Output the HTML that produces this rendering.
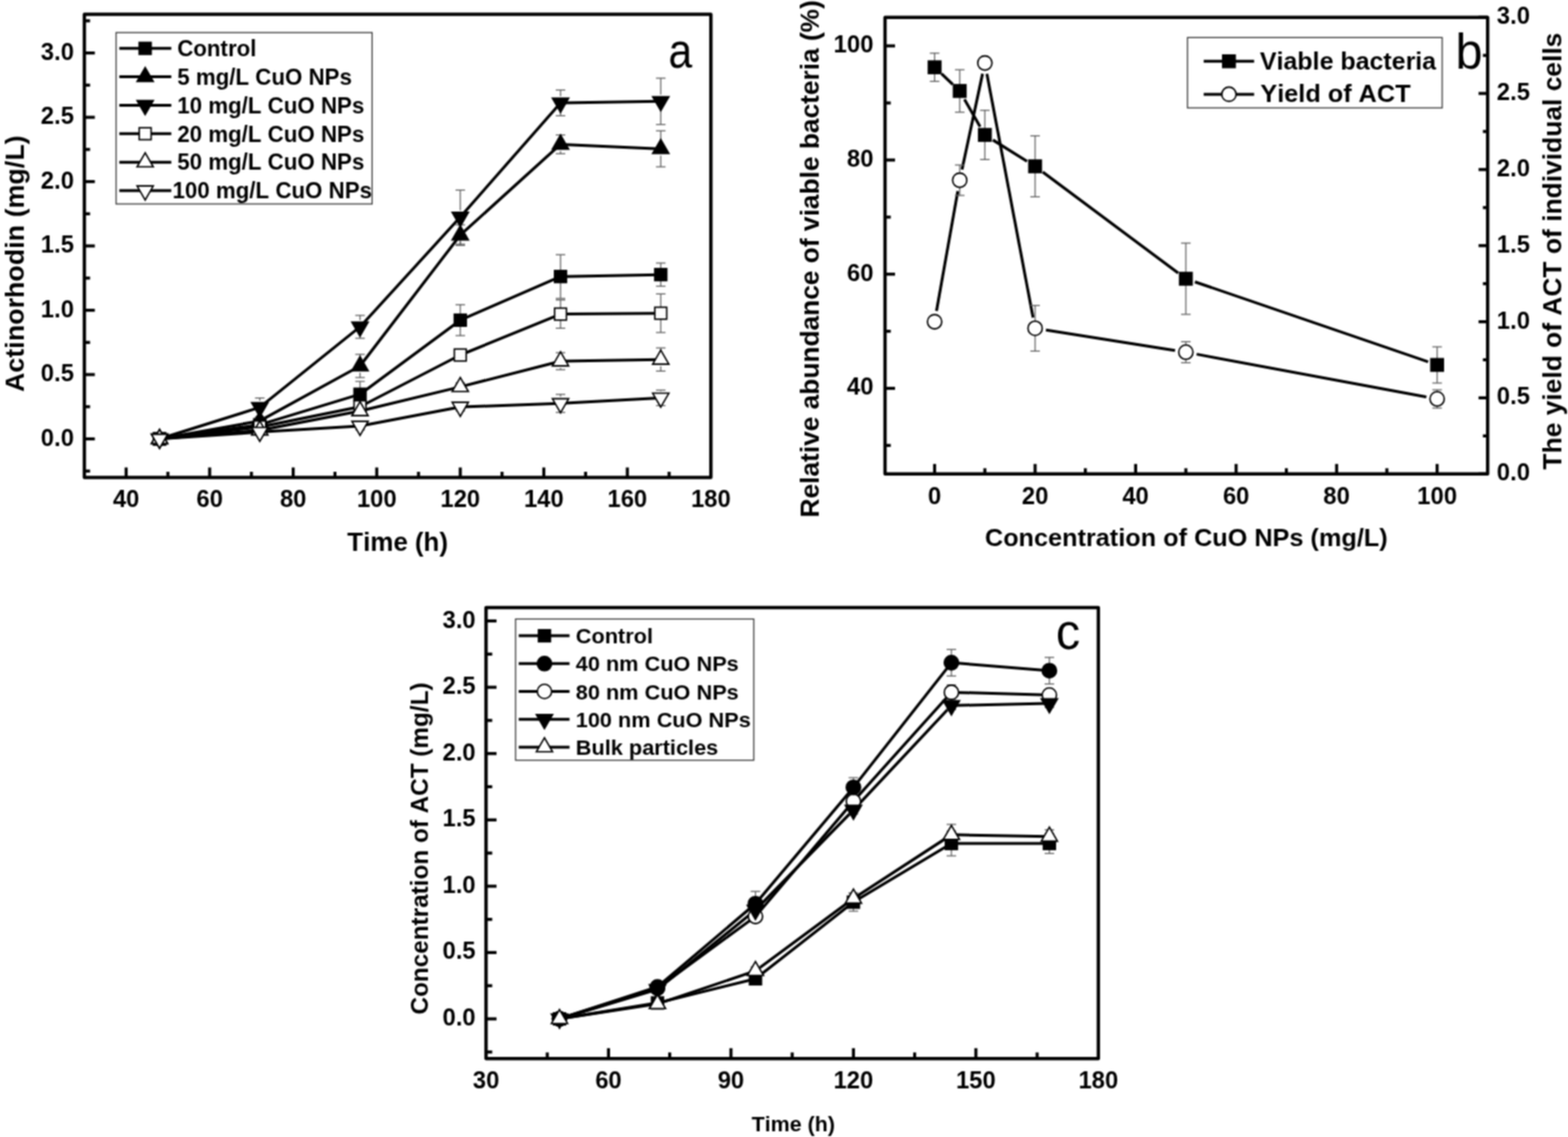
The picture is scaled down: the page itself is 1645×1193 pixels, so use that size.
<!DOCTYPE html><html><head><meta charset="utf-8"><title>Figure</title>
<style>html,body{margin:0;padding:0;background:#fff;overflow:hidden;}svg{display:block;}text{font-kerning:none;}</style></head><body>
<svg width="1645" height="1193" viewBox="0 0 1645 1193">
<defs><filter id="soft" filterUnits="userSpaceOnUse" x="0" y="0" width="1645" height="1193" color-interpolation-filters="sRGB"><feConvolveMatrix order="3" kernelMatrix="1 2 1 2 4 2 1 2 1" divisor="16" edgeMode="duplicate"/></filter></defs>
<g filter="url(#soft)">
<rect x="0" y="0" width="1645" height="1193" fill="#fff"/>
<rect x="88.5" y="15.1" width="657.3" height="485.9" fill="none" stroke="#000" stroke-width="3.5" stroke-linejoin="round"/>
<line x1="132.32" y1="501" x2="132.32" y2="490.5" stroke="#000" stroke-width="3.2" />
<text x="132.32" y="532.2" font-size="25" text-anchor="middle" font-weight="bold" font-family="'Liberation Sans', Arial, sans-serif" >40</text>
<line x1="219.96" y1="501" x2="219.96" y2="490.5" stroke="#000" stroke-width="3.2" />
<text x="219.96" y="532.2" font-size="25" text-anchor="middle" font-weight="bold" font-family="'Liberation Sans', Arial, sans-serif" >60</text>
<line x1="307.6" y1="501" x2="307.6" y2="490.5" stroke="#000" stroke-width="3.2" />
<text x="307.6" y="532.2" font-size="25" text-anchor="middle" font-weight="bold" font-family="'Liberation Sans', Arial, sans-serif" >80</text>
<line x1="395.24" y1="501" x2="395.24" y2="490.5" stroke="#000" stroke-width="3.2" />
<text x="395.24" y="532.2" font-size="25" text-anchor="middle" font-weight="bold" font-family="'Liberation Sans', Arial, sans-serif" >100</text>
<line x1="482.88" y1="501" x2="482.88" y2="490.5" stroke="#000" stroke-width="3.2" />
<text x="482.88" y="532.2" font-size="25" text-anchor="middle" font-weight="bold" font-family="'Liberation Sans', Arial, sans-serif" >120</text>
<line x1="570.52" y1="501" x2="570.52" y2="490.5" stroke="#000" stroke-width="3.2" />
<text x="570.52" y="532.2" font-size="25" text-anchor="middle" font-weight="bold" font-family="'Liberation Sans', Arial, sans-serif" >140</text>
<line x1="658.16" y1="501" x2="658.16" y2="490.5" stroke="#000" stroke-width="3.2" />
<text x="658.16" y="532.2" font-size="25" text-anchor="middle" font-weight="bold" font-family="'Liberation Sans', Arial, sans-serif" >160</text>
<text x="745.8" y="532.2" font-size="25" text-anchor="middle" font-weight="bold" font-family="'Liberation Sans', Arial, sans-serif" >180</text>
<line x1="176.14" y1="501" x2="176.14" y2="495" stroke="#000" stroke-width="3.2" />
<line x1="263.78" y1="501" x2="263.78" y2="495" stroke="#000" stroke-width="3.2" />
<line x1="351.42" y1="501" x2="351.42" y2="495" stroke="#000" stroke-width="3.2" />
<line x1="439.06" y1="501" x2="439.06" y2="495" stroke="#000" stroke-width="3.2" />
<line x1="526.7" y1="501" x2="526.7" y2="495" stroke="#000" stroke-width="3.2" />
<line x1="614.34" y1="501" x2="614.34" y2="495" stroke="#000" stroke-width="3.2" />
<line x1="701.98" y1="501" x2="701.98" y2="495" stroke="#000" stroke-width="3.2" />
<line x1="88.5" y1="460.51" x2="99.5" y2="460.51" stroke="#000" stroke-width="3.2" />
<text x="77.6" y="467.51" font-size="25" text-anchor="end" font-weight="bold" font-family="'Liberation Sans', Arial, sans-serif" >0.0</text>
<line x1="88.5" y1="393.02" x2="99.5" y2="393.02" stroke="#000" stroke-width="3.2" />
<text x="77.6" y="400.02" font-size="25" text-anchor="end" font-weight="bold" font-family="'Liberation Sans', Arial, sans-serif" >0.5</text>
<line x1="88.5" y1="325.54" x2="99.5" y2="325.54" stroke="#000" stroke-width="3.2" />
<text x="77.6" y="332.54" font-size="25" text-anchor="end" font-weight="bold" font-family="'Liberation Sans', Arial, sans-serif" >1.0</text>
<line x1="88.5" y1="258.05" x2="99.5" y2="258.05" stroke="#000" stroke-width="3.2" />
<text x="77.6" y="265.05" font-size="25" text-anchor="end" font-weight="bold" font-family="'Liberation Sans', Arial, sans-serif" >1.5</text>
<line x1="88.5" y1="190.56" x2="99.5" y2="190.56" stroke="#000" stroke-width="3.2" />
<text x="77.6" y="197.56" font-size="25" text-anchor="end" font-weight="bold" font-family="'Liberation Sans', Arial, sans-serif" >2.0</text>
<line x1="88.5" y1="123.08" x2="99.5" y2="123.08" stroke="#000" stroke-width="3.2" />
<text x="77.6" y="130.08" font-size="25" text-anchor="end" font-weight="bold" font-family="'Liberation Sans', Arial, sans-serif" >2.5</text>
<line x1="88.5" y1="55.59" x2="99.5" y2="55.59" stroke="#000" stroke-width="3.2" />
<text x="77.6" y="62.59" font-size="25" text-anchor="end" font-weight="bold" font-family="'Liberation Sans', Arial, sans-serif" >3.0</text>
<line x1="88.5" y1="494.25" x2="94.5" y2="494.25" stroke="#000" stroke-width="3.2" />
<line x1="88.5" y1="426.77" x2="94.5" y2="426.77" stroke="#000" stroke-width="3.2" />
<line x1="88.5" y1="359.28" x2="94.5" y2="359.28" stroke="#000" stroke-width="3.2" />
<line x1="88.5" y1="291.79" x2="94.5" y2="291.79" stroke="#000" stroke-width="3.2" />
<line x1="88.5" y1="224.31" x2="94.5" y2="224.31" stroke="#000" stroke-width="3.2" />
<line x1="88.5" y1="156.82" x2="94.5" y2="156.82" stroke="#000" stroke-width="3.2" />
<line x1="88.5" y1="89.33" x2="94.5" y2="89.33" stroke="#000" stroke-width="3.2" />
<line x1="88.5" y1="21.85" x2="94.5" y2="21.85" stroke="#000" stroke-width="3.2" />
<text x="364.3" y="578.3" font-size="27.2" text-anchor="start" font-weight="bold" font-family="'Liberation Sans', Arial, sans-serif" >Time (h)</text>
<text transform="translate(25,411.3) rotate(-90)" font-size="28.2" font-weight="bold" font-family="'Liberation Sans', Arial, sans-serif">Actinorhodin (mg/L)</text>
<text transform="translate(701.2,71.2) scale(0.88,1)" font-size="51" font-family="'Liberation Sans', Arial, sans-serif">a</text>
<polyline points="167.38,460.51 272.54,445.66 377.71,413.67 482.88,335.93 588.05,290.17 693.22,288.15" fill="none" stroke="#000" stroke-width="3.0" stroke-linejoin="round"/>
<polyline points="167.38,460.51 272.54,441.61 377.71,383.98 482.88,246.71 588.05,151.42 693.22,156.15" fill="none" stroke="#000" stroke-width="3.0" stroke-linejoin="round"/>
<polyline points="167.38,460.51 272.54,427.44 377.71,342.95 482.88,227.82 588.05,107.96 693.22,106.34" fill="none" stroke="#000" stroke-width="3.0" stroke-linejoin="round"/>
<polyline points="167.38,460.51 272.54,447.96 377.71,426.77 482.88,372.51 588.05,329.59 693.22,328.64" fill="none" stroke="#000" stroke-width="3.0" stroke-linejoin="round"/>
<polyline points="167.38,460.51 272.54,451.47 377.71,431.22 482.88,405.84 588.05,378.99 693.22,377.23" fill="none" stroke="#000" stroke-width="3.0" stroke-linejoin="round"/>
<polyline points="167.38,460.51 272.54,453.35 377.71,447.01 482.88,427.04 588.05,423.26 693.22,417.45" fill="none" stroke="#000" stroke-width="3.0" stroke-linejoin="round"/>
<line x1="267.54" y1="442.96" x2="277.54" y2="442.96" stroke="#606060" stroke-width="1.2" />
<line x1="267.54" y1="448.36" x2="277.54" y2="448.36" stroke="#606060" stroke-width="1.2" />
<line x1="377.71" y1="407.67" x2="377.71" y2="400.18" stroke="#606060" stroke-width="1.2" />
<line x1="372.71" y1="400.18" x2="382.71" y2="400.18" stroke="#606060" stroke-width="1.2" />
<line x1="377.71" y1="419.67" x2="377.71" y2="427.17" stroke="#606060" stroke-width="1.2" />
<line x1="372.71" y1="427.17" x2="382.71" y2="427.17" stroke="#606060" stroke-width="1.2" />
<line x1="482.88" y1="329.93" x2="482.88" y2="319.73" stroke="#606060" stroke-width="1.2" />
<line x1="477.88" y1="319.73" x2="487.88" y2="319.73" stroke="#606060" stroke-width="1.2" />
<line x1="482.88" y1="341.93" x2="482.88" y2="352.13" stroke="#606060" stroke-width="1.2" />
<line x1="477.88" y1="352.13" x2="487.88" y2="352.13" stroke="#606060" stroke-width="1.2" />
<line x1="588.05" y1="284.17" x2="588.05" y2="267.23" stroke="#606060" stroke-width="1.2" />
<line x1="583.05" y1="267.23" x2="593.05" y2="267.23" stroke="#606060" stroke-width="1.2" />
<line x1="588.05" y1="296.17" x2="588.05" y2="313.12" stroke="#606060" stroke-width="1.2" />
<line x1="583.05" y1="313.12" x2="593.05" y2="313.12" stroke="#606060" stroke-width="1.2" />
<line x1="693.22" y1="282.15" x2="693.22" y2="276" stroke="#606060" stroke-width="1.2" />
<line x1="688.22" y1="276" x2="698.22" y2="276" stroke="#606060" stroke-width="1.2" />
<line x1="693.22" y1="294.15" x2="693.22" y2="300.3" stroke="#606060" stroke-width="1.2" />
<line x1="688.22" y1="300.3" x2="698.22" y2="300.3" stroke="#606060" stroke-width="1.2" />
<line x1="267.54" y1="438.91" x2="277.54" y2="438.91" stroke="#606060" stroke-width="1.2" />
<line x1="267.54" y1="444.31" x2="277.54" y2="444.31" stroke="#606060" stroke-width="1.2" />
<line x1="377.71" y1="376.98" x2="377.71" y2="371.83" stroke="#606060" stroke-width="1.2" />
<line x1="372.71" y1="371.83" x2="382.71" y2="371.83" stroke="#606060" stroke-width="1.2" />
<line x1="377.71" y1="390.98" x2="377.71" y2="396.13" stroke="#606060" stroke-width="1.2" />
<line x1="372.71" y1="396.13" x2="382.71" y2="396.13" stroke="#606060" stroke-width="1.2" />
<line x1="482.88" y1="239.71" x2="482.88" y2="235.91" stroke="#606060" stroke-width="1.2" />
<line x1="477.88" y1="235.91" x2="487.88" y2="235.91" stroke="#606060" stroke-width="1.2" />
<line x1="482.88" y1="253.71" x2="482.88" y2="257.51" stroke="#606060" stroke-width="1.2" />
<line x1="477.88" y1="257.51" x2="487.88" y2="257.51" stroke="#606060" stroke-width="1.2" />
<line x1="588.05" y1="144.42" x2="588.05" y2="141.57" stroke="#606060" stroke-width="1.2" />
<line x1="583.05" y1="141.57" x2="593.05" y2="141.57" stroke="#606060" stroke-width="1.2" />
<line x1="588.05" y1="158.42" x2="588.05" y2="161.27" stroke="#606060" stroke-width="1.2" />
<line x1="583.05" y1="161.27" x2="593.05" y2="161.27" stroke="#606060" stroke-width="1.2" />
<line x1="693.22" y1="149.15" x2="693.22" y2="137.25" stroke="#606060" stroke-width="1.2" />
<line x1="688.22" y1="137.25" x2="698.22" y2="137.25" stroke="#606060" stroke-width="1.2" />
<line x1="693.22" y1="163.15" x2="693.22" y2="175.04" stroke="#606060" stroke-width="1.2" />
<line x1="688.22" y1="175.04" x2="698.22" y2="175.04" stroke="#606060" stroke-width="1.2" />
<line x1="272.54" y1="420.44" x2="272.54" y2="417.59" stroke="#606060" stroke-width="1.2" />
<line x1="267.54" y1="417.59" x2="277.54" y2="417.59" stroke="#606060" stroke-width="1.2" />
<line x1="272.54" y1="434.44" x2="272.54" y2="437.29" stroke="#606060" stroke-width="1.2" />
<line x1="267.54" y1="437.29" x2="277.54" y2="437.29" stroke="#606060" stroke-width="1.2" />
<line x1="377.71" y1="335.95" x2="377.71" y2="330.94" stroke="#606060" stroke-width="1.2" />
<line x1="372.71" y1="330.94" x2="382.71" y2="330.94" stroke="#606060" stroke-width="1.2" />
<line x1="377.71" y1="349.95" x2="377.71" y2="354.96" stroke="#606060" stroke-width="1.2" />
<line x1="372.71" y1="354.96" x2="382.71" y2="354.96" stroke="#606060" stroke-width="1.2" />
<line x1="482.88" y1="220.82" x2="482.88" y2="199.47" stroke="#606060" stroke-width="1.2" />
<line x1="477.88" y1="199.47" x2="487.88" y2="199.47" stroke="#606060" stroke-width="1.2" />
<line x1="482.88" y1="234.82" x2="482.88" y2="256.16" stroke="#606060" stroke-width="1.2" />
<line x1="477.88" y1="256.16" x2="487.88" y2="256.16" stroke="#606060" stroke-width="1.2" />
<line x1="588.05" y1="100.96" x2="588.05" y2="94.46" stroke="#606060" stroke-width="1.2" />
<line x1="583.05" y1="94.46" x2="593.05" y2="94.46" stroke="#606060" stroke-width="1.2" />
<line x1="588.05" y1="114.96" x2="588.05" y2="121.46" stroke="#606060" stroke-width="1.2" />
<line x1="583.05" y1="121.46" x2="593.05" y2="121.46" stroke="#606060" stroke-width="1.2" />
<line x1="693.22" y1="99.34" x2="693.22" y2="82.05" stroke="#606060" stroke-width="1.2" />
<line x1="688.22" y1="82.05" x2="698.22" y2="82.05" stroke="#606060" stroke-width="1.2" />
<line x1="693.22" y1="113.34" x2="693.22" y2="130.64" stroke="#606060" stroke-width="1.2" />
<line x1="688.22" y1="130.64" x2="698.22" y2="130.64" stroke="#606060" stroke-width="1.2" />
<line x1="267.54" y1="445.26" x2="277.54" y2="445.26" stroke="#606060" stroke-width="1.2" />
<line x1="267.54" y1="450.66" x2="277.54" y2="450.66" stroke="#606060" stroke-width="1.2" />
<line x1="372.71" y1="422.72" x2="382.71" y2="422.72" stroke="#606060" stroke-width="1.2" />
<line x1="372.71" y1="430.81" x2="382.71" y2="430.81" stroke="#606060" stroke-width="1.2" />
<line x1="477.88" y1="369.81" x2="487.88" y2="369.81" stroke="#606060" stroke-width="1.2" />
<line x1="477.88" y1="375.21" x2="487.88" y2="375.21" stroke="#606060" stroke-width="1.2" />
<line x1="588.05" y1="323.59" x2="588.05" y2="314.74" stroke="#606060" stroke-width="1.2" />
<line x1="583.05" y1="314.74" x2="593.05" y2="314.74" stroke="#606060" stroke-width="1.2" />
<line x1="588.05" y1="335.59" x2="588.05" y2="344.43" stroke="#606060" stroke-width="1.2" />
<line x1="583.05" y1="344.43" x2="593.05" y2="344.43" stroke="#606060" stroke-width="1.2" />
<line x1="693.22" y1="322.64" x2="693.22" y2="308.39" stroke="#606060" stroke-width="1.2" />
<line x1="688.22" y1="308.39" x2="698.22" y2="308.39" stroke="#606060" stroke-width="1.2" />
<line x1="693.22" y1="334.64" x2="693.22" y2="348.89" stroke="#606060" stroke-width="1.2" />
<line x1="688.22" y1="348.89" x2="698.22" y2="348.89" stroke="#606060" stroke-width="1.2" />
<line x1="267.54" y1="448.77" x2="277.54" y2="448.77" stroke="#606060" stroke-width="1.2" />
<line x1="267.54" y1="454.16" x2="277.54" y2="454.16" stroke="#606060" stroke-width="1.2" />
<line x1="372.71" y1="427.17" x2="382.71" y2="427.17" stroke="#606060" stroke-width="1.2" />
<line x1="372.71" y1="435.27" x2="382.71" y2="435.27" stroke="#606060" stroke-width="1.2" />
<line x1="477.88" y1="401.8" x2="487.88" y2="401.8" stroke="#606060" stroke-width="1.2" />
<line x1="477.88" y1="409.89" x2="487.88" y2="409.89" stroke="#606060" stroke-width="1.2" />
<line x1="588.05" y1="371.99" x2="588.05" y2="370.08" stroke="#606060" stroke-width="1.2" />
<line x1="583.05" y1="370.08" x2="593.05" y2="370.08" stroke="#606060" stroke-width="1.2" />
<line x1="588.05" y1="385.99" x2="588.05" y2="387.89" stroke="#606060" stroke-width="1.2" />
<line x1="583.05" y1="387.89" x2="593.05" y2="387.89" stroke="#606060" stroke-width="1.2" />
<line x1="693.22" y1="370.23" x2="693.22" y2="365.08" stroke="#606060" stroke-width="1.2" />
<line x1="688.22" y1="365.08" x2="698.22" y2="365.08" stroke="#606060" stroke-width="1.2" />
<line x1="693.22" y1="384.23" x2="693.22" y2="389.38" stroke="#606060" stroke-width="1.2" />
<line x1="688.22" y1="389.38" x2="698.22" y2="389.38" stroke="#606060" stroke-width="1.2" />
<line x1="267.54" y1="450.66" x2="277.54" y2="450.66" stroke="#606060" stroke-width="1.2" />
<line x1="267.54" y1="456.05" x2="277.54" y2="456.05" stroke="#606060" stroke-width="1.2" />
<line x1="372.71" y1="442.96" x2="382.71" y2="442.96" stroke="#606060" stroke-width="1.2" />
<line x1="372.71" y1="451.06" x2="382.71" y2="451.06" stroke="#606060" stroke-width="1.2" />
<line x1="477.88" y1="422.99" x2="487.88" y2="422.99" stroke="#606060" stroke-width="1.2" />
<line x1="477.88" y1="431.08" x2="487.88" y2="431.08" stroke="#606060" stroke-width="1.2" />
<line x1="588.05" y1="416.26" x2="588.05" y2="413.81" stroke="#606060" stroke-width="1.2" />
<line x1="583.05" y1="413.81" x2="593.05" y2="413.81" stroke="#606060" stroke-width="1.2" />
<line x1="588.05" y1="430.26" x2="588.05" y2="432.7" stroke="#606060" stroke-width="1.2" />
<line x1="583.05" y1="432.7" x2="593.05" y2="432.7" stroke="#606060" stroke-width="1.2" />
<line x1="693.22" y1="410.45" x2="693.22" y2="409.35" stroke="#606060" stroke-width="1.2" />
<line x1="688.22" y1="409.35" x2="698.22" y2="409.35" stroke="#606060" stroke-width="1.2" />
<line x1="693.22" y1="424.45" x2="693.22" y2="425.55" stroke="#606060" stroke-width="1.2" />
<line x1="688.22" y1="425.55" x2="698.22" y2="425.55" stroke="#606060" stroke-width="1.2" />
<rect x="161.13" y="454.26" width="12.5" height="12.5" fill="#000" stroke="#000" stroke-width="1.6"/>
<rect x="266.29" y="439.41" width="12.5" height="12.5" fill="#000" stroke="#000" stroke-width="1.6"/>
<rect x="371.46" y="407.42" width="12.5" height="12.5" fill="#000" stroke="#000" stroke-width="1.6"/>
<rect x="476.63" y="329.68" width="12.5" height="12.5" fill="#000" stroke="#000" stroke-width="1.6"/>
<rect x="581.8" y="283.92" width="12.5" height="12.5" fill="#000" stroke="#000" stroke-width="1.6"/>
<rect x="686.97" y="281.9" width="12.5" height="12.5" fill="#000" stroke="#000" stroke-width="1.6"/>
<polygon points="167.38,450.69 158.88,465.42 175.88,465.42" fill="#000" stroke="#000" stroke-width="1.6" stroke-linejoin="miter"/>
<polygon points="272.54,431.8 264.04,446.52 281.04,446.52" fill="#000" stroke="#000" stroke-width="1.6" stroke-linejoin="miter"/>
<polygon points="377.71,374.16 369.21,388.89 386.21,388.89" fill="#000" stroke="#000" stroke-width="1.6" stroke-linejoin="miter"/>
<polygon points="482.88,236.9 474.38,251.62 491.38,251.62" fill="#000" stroke="#000" stroke-width="1.6" stroke-linejoin="miter"/>
<polygon points="588.05,141.61 579.55,156.33 596.55,156.33" fill="#000" stroke="#000" stroke-width="1.6" stroke-linejoin="miter"/>
<polygon points="693.22,146.33 684.72,161.05 701.72,161.05" fill="#000" stroke="#000" stroke-width="1.6" stroke-linejoin="miter"/>
<polygon points="167.38,470.32 158.88,455.6 175.88,455.6" fill="#000" stroke="#000" stroke-width="1.6" stroke-linejoin="miter"/>
<polygon points="272.54,437.25 264.04,422.53 281.04,422.53" fill="#000" stroke="#000" stroke-width="1.6" stroke-linejoin="miter"/>
<polygon points="377.71,352.76 369.21,338.04 386.21,338.04" fill="#000" stroke="#000" stroke-width="1.6" stroke-linejoin="miter"/>
<polygon points="482.88,237.63 474.38,222.91 491.38,222.91" fill="#000" stroke="#000" stroke-width="1.6" stroke-linejoin="miter"/>
<polygon points="588.05,117.78 579.55,103.05 596.55,103.05" fill="#000" stroke="#000" stroke-width="1.6" stroke-linejoin="miter"/>
<polygon points="693.22,116.16 684.72,101.43 701.72,101.43" fill="#000" stroke="#000" stroke-width="1.6" stroke-linejoin="miter"/>
<rect x="161.13" y="454.26" width="12.5" height="12.5" fill="#fff" stroke="#000" stroke-width="1.6"/>
<rect x="266.29" y="441.71" width="12.5" height="12.5" fill="#fff" stroke="#000" stroke-width="1.6"/>
<rect x="371.46" y="420.52" width="12.5" height="12.5" fill="#fff" stroke="#000" stroke-width="1.6"/>
<rect x="476.63" y="366.26" width="12.5" height="12.5" fill="#fff" stroke="#000" stroke-width="1.6"/>
<rect x="581.8" y="323.34" width="12.5" height="12.5" fill="#fff" stroke="#000" stroke-width="1.6"/>
<rect x="686.97" y="322.39" width="12.5" height="12.5" fill="#fff" stroke="#000" stroke-width="1.6"/>
<polygon points="167.38,450.69 158.88,465.42 175.88,465.42" fill="#fff" stroke="#000" stroke-width="1.6" stroke-linejoin="miter"/>
<polygon points="272.54,441.65 264.04,456.37 281.04,456.37" fill="#fff" stroke="#000" stroke-width="1.6" stroke-linejoin="miter"/>
<polygon points="377.71,421.4 369.21,436.13 386.21,436.13" fill="#fff" stroke="#000" stroke-width="1.6" stroke-linejoin="miter"/>
<polygon points="482.88,396.03 474.38,410.75 491.38,410.75" fill="#fff" stroke="#000" stroke-width="1.6" stroke-linejoin="miter"/>
<polygon points="588.05,369.17 579.55,383.89 596.55,383.89" fill="#fff" stroke="#000" stroke-width="1.6" stroke-linejoin="miter"/>
<polygon points="693.22,367.42 684.72,382.14 701.72,382.14" fill="#fff" stroke="#000" stroke-width="1.6" stroke-linejoin="miter"/>
<polygon points="167.38,470.32 158.88,455.6 175.88,455.6" fill="#fff" stroke="#000" stroke-width="1.6" stroke-linejoin="miter"/>
<polygon points="272.54,463.17 264.04,448.45 281.04,448.45" fill="#fff" stroke="#000" stroke-width="1.6" stroke-linejoin="miter"/>
<polygon points="377.71,456.83 369.21,442.1 386.21,442.1" fill="#fff" stroke="#000" stroke-width="1.6" stroke-linejoin="miter"/>
<polygon points="482.88,436.85 474.38,422.13 491.38,422.13" fill="#fff" stroke="#000" stroke-width="1.6" stroke-linejoin="miter"/>
<polygon points="588.05,433.07 579.55,418.35 596.55,418.35" fill="#fff" stroke="#000" stroke-width="1.6" stroke-linejoin="miter"/>
<polygon points="693.22,427.27 684.72,412.54 701.72,412.54" fill="#fff" stroke="#000" stroke-width="1.6" stroke-linejoin="miter"/>
<rect x="121.8" y="34.2" width="268.6" height="179.8" fill="#fff" stroke="#333" stroke-width="1.2"/>
<line x1="125.2" y1="50.75" x2="179.7" y2="50.75" stroke="#000" stroke-width="3.0" />
<rect x="146.05" y="44.5" width="12.5" height="12.5" fill="#000" stroke="#000" stroke-width="1.6"/>
<text x="185.9" y="59.05" font-size="23.4" text-anchor="start" font-weight="bold" font-family="'Liberation Sans', Arial, sans-serif" >Control</text>
<line x1="125.2" y1="80.6" x2="179.7" y2="80.6" stroke="#000" stroke-width="3.0" />
<polygon points="152.3,70.79 143.8,85.51 160.8,85.51" fill="#000" stroke="#000" stroke-width="1.6" stroke-linejoin="miter"/>
<text x="185.9" y="88.9" font-size="23.4" text-anchor="start" font-weight="bold" font-family="'Liberation Sans', Arial, sans-serif" >5 mg/L CuO NPs</text>
<line x1="125.2" y1="110.45" x2="179.7" y2="110.45" stroke="#000" stroke-width="3.0" />
<polygon points="152.3,120.26 143.8,105.54 160.8,105.54" fill="#000" stroke="#000" stroke-width="1.6" stroke-linejoin="miter"/>
<text x="185.9" y="118.75" font-size="23.4" text-anchor="start" font-weight="bold" font-family="'Liberation Sans', Arial, sans-serif" >10 mg/L CuO NPs</text>
<line x1="125.2" y1="140.3" x2="179.7" y2="140.3" stroke="#000" stroke-width="3.0" />
<rect x="146.05" y="134.05" width="12.5" height="12.5" fill="#fff" stroke="#000" stroke-width="1.6"/>
<text x="185.9" y="148.6" font-size="23.4" text-anchor="start" font-weight="bold" font-family="'Liberation Sans', Arial, sans-serif" >20 mg/L CuO NPs</text>
<line x1="125.2" y1="170.15" x2="179.7" y2="170.15" stroke="#000" stroke-width="3.0" />
<polygon points="152.3,160.34 143.8,175.06 160.8,175.06" fill="#fff" stroke="#000" stroke-width="1.6" stroke-linejoin="miter"/>
<text x="185.9" y="178.45" font-size="23.4" text-anchor="start" font-weight="bold" font-family="'Liberation Sans', Arial, sans-serif" >50 mg/L CuO NPs</text>
<line x1="125.2" y1="200" x2="179.7" y2="200" stroke="#000" stroke-width="3.0" />
<polygon points="152.3,209.81 143.8,195.09 160.8,195.09" fill="#fff" stroke="#000" stroke-width="1.6" stroke-linejoin="miter"/>
<text x="181" y="208.3" font-size="23.4" text-anchor="start" font-weight="bold" font-family="'Liberation Sans', Arial, sans-serif" >100 mg/L CuO NPs</text>
<rect x="928.5" y="18.2" width="632.2" height="479.1" fill="none" stroke="#000" stroke-width="3.5" stroke-linejoin="round"/>
<line x1="980.5" y1="497.3" x2="980.5" y2="486.8" stroke="#000" stroke-width="3.2" />
<text x="980.5" y="528.5" font-size="25" text-anchor="middle" font-weight="bold" font-family="'Liberation Sans', Arial, sans-serif" >0</text>
<line x1="1085.94" y1="497.3" x2="1085.94" y2="486.8" stroke="#000" stroke-width="3.2" />
<text x="1085.94" y="528.5" font-size="25" text-anchor="middle" font-weight="bold" font-family="'Liberation Sans', Arial, sans-serif" >20</text>
<line x1="1191.38" y1="497.3" x2="1191.38" y2="486.8" stroke="#000" stroke-width="3.2" />
<text x="1191.38" y="528.5" font-size="25" text-anchor="middle" font-weight="bold" font-family="'Liberation Sans', Arial, sans-serif" >40</text>
<line x1="1296.82" y1="497.3" x2="1296.82" y2="486.8" stroke="#000" stroke-width="3.2" />
<text x="1296.82" y="528.5" font-size="25" text-anchor="middle" font-weight="bold" font-family="'Liberation Sans', Arial, sans-serif" >60</text>
<line x1="1402.26" y1="497.3" x2="1402.26" y2="486.8" stroke="#000" stroke-width="3.2" />
<text x="1402.26" y="528.5" font-size="25" text-anchor="middle" font-weight="bold" font-family="'Liberation Sans', Arial, sans-serif" >80</text>
<line x1="1507.7" y1="497.3" x2="1507.7" y2="486.8" stroke="#000" stroke-width="3.2" />
<text x="1507.7" y="528.5" font-size="25" text-anchor="middle" font-weight="bold" font-family="'Liberation Sans', Arial, sans-serif" >100</text>
<line x1="1033.22" y1="497.3" x2="1033.22" y2="491.3" stroke="#000" stroke-width="3.2" />
<line x1="1138.66" y1="497.3" x2="1138.66" y2="491.3" stroke="#000" stroke-width="3.2" />
<line x1="1244.1" y1="497.3" x2="1244.1" y2="491.3" stroke="#000" stroke-width="3.2" />
<line x1="1349.54" y1="497.3" x2="1349.54" y2="491.3" stroke="#000" stroke-width="3.2" />
<line x1="1454.98" y1="497.3" x2="1454.98" y2="491.3" stroke="#000" stroke-width="3.2" />
<line x1="928.5" y1="407.47" x2="939" y2="407.47" stroke="#000" stroke-width="3.2" />
<text x="916.3" y="414.47" font-size="25" text-anchor="end" font-weight="bold" font-family="'Liberation Sans', Arial, sans-serif" >40</text>
<line x1="928.5" y1="287.69" x2="939" y2="287.69" stroke="#000" stroke-width="3.2" />
<text x="916.3" y="294.69" font-size="25" text-anchor="end" font-weight="bold" font-family="'Liberation Sans', Arial, sans-serif" >60</text>
<line x1="928.5" y1="167.92" x2="939" y2="167.92" stroke="#000" stroke-width="3.2" />
<text x="916.3" y="174.92" font-size="25" text-anchor="end" font-weight="bold" font-family="'Liberation Sans', Arial, sans-serif" >80</text>
<line x1="928.5" y1="48.14" x2="939" y2="48.14" stroke="#000" stroke-width="3.2" />
<text x="916.3" y="55.14" font-size="25" text-anchor="end" font-weight="bold" font-family="'Liberation Sans', Arial, sans-serif" >100</text>
<line x1="928.5" y1="467.36" x2="934.5" y2="467.36" stroke="#000" stroke-width="3.2" />
<line x1="928.5" y1="347.58" x2="934.5" y2="347.58" stroke="#000" stroke-width="3.2" />
<line x1="928.5" y1="227.81" x2="934.5" y2="227.81" stroke="#000" stroke-width="3.2" />
<line x1="928.5" y1="108.03" x2="934.5" y2="108.03" stroke="#000" stroke-width="3.2" />
<line x1="1560.7" y1="497.3" x2="1551.2" y2="497.3" stroke="#000" stroke-width="3.2" />
<text x="1570.3" y="504.3" font-size="25" text-anchor="start" font-weight="bold" font-family="'Liberation Sans', Arial, sans-serif" >0.0</text>
<line x1="1560.7" y1="417.45" x2="1551.2" y2="417.45" stroke="#000" stroke-width="3.2" />
<text x="1570.3" y="424.45" font-size="25" text-anchor="start" font-weight="bold" font-family="'Liberation Sans', Arial, sans-serif" >0.5</text>
<line x1="1560.7" y1="337.6" x2="1551.2" y2="337.6" stroke="#000" stroke-width="3.2" />
<text x="1570.3" y="344.6" font-size="25" text-anchor="start" font-weight="bold" font-family="'Liberation Sans', Arial, sans-serif" >1.0</text>
<line x1="1560.7" y1="257.75" x2="1551.2" y2="257.75" stroke="#000" stroke-width="3.2" />
<text x="1570.3" y="264.75" font-size="25" text-anchor="start" font-weight="bold" font-family="'Liberation Sans', Arial, sans-serif" >1.5</text>
<line x1="1560.7" y1="177.9" x2="1551.2" y2="177.9" stroke="#000" stroke-width="3.2" />
<text x="1570.3" y="184.9" font-size="25" text-anchor="start" font-weight="bold" font-family="'Liberation Sans', Arial, sans-serif" >2.0</text>
<line x1="1560.7" y1="98.05" x2="1551.2" y2="98.05" stroke="#000" stroke-width="3.2" />
<text x="1570.3" y="105.05" font-size="25" text-anchor="start" font-weight="bold" font-family="'Liberation Sans', Arial, sans-serif" >2.5</text>
<line x1="1560.7" y1="18.2" x2="1551.2" y2="18.2" stroke="#000" stroke-width="3.2" />
<text x="1570.3" y="25.2" font-size="25" text-anchor="start" font-weight="bold" font-family="'Liberation Sans', Arial, sans-serif" >3.0</text>
<line x1="1560.7" y1="457.38" x2="1555.7" y2="457.38" stroke="#000" stroke-width="3.2" />
<line x1="1560.7" y1="377.52" x2="1555.7" y2="377.52" stroke="#000" stroke-width="3.2" />
<line x1="1560.7" y1="297.68" x2="1555.7" y2="297.68" stroke="#000" stroke-width="3.2" />
<line x1="1560.7" y1="217.82" x2="1555.7" y2="217.82" stroke="#000" stroke-width="3.2" />
<line x1="1560.7" y1="137.97" x2="1555.7" y2="137.97" stroke="#000" stroke-width="3.2" />
<line x1="1560.7" y1="58.12" x2="1555.7" y2="58.12" stroke="#000" stroke-width="3.2" />
<text x="1033.3" y="573.4" font-size="26.5" text-anchor="start" font-weight="bold" font-family="'Liberation Sans', Arial, sans-serif" >Concentration of CuO NPs (mg/L)</text>
<text transform="translate(859,543) rotate(-90)" font-size="27.6" font-weight="bold" font-family="'Liberation Sans', Arial, sans-serif">Relative abundance of viable bacteria (%)</text>
<text transform="translate(1638,492.7) rotate(-90)" font-size="27.7" font-weight="bold" font-family="'Liberation Sans', Arial, sans-serif">The yield of ACT of individual cells</text>
<text x="1527" y="71.5" font-size="51" font-family="'Liberation Sans', Arial, sans-serif">b</text>
<line x1="987.78" y1="77.46" x2="999.58" y2="88.59" stroke="#000" stroke-width="3.0" />
<line x1="1011.82" y1="104.14" x2="1028.26" y2="132.89" stroke="#000" stroke-width="3.0" />
<line x1="1041.7" y1="146.87" x2="1077.46" y2="169.21" stroke="#000" stroke-width="3.0" />
<line x1="1093.96" y1="180.49" x2="1236.08" y2="286.51" stroke="#000" stroke-width="3.0" />
<line x1="1253.56" y1="295.73" x2="1498.24" y2="379.67" stroke="#000" stroke-width="3.0" />
<line x1="982.51" y1="326.28" x2="1004.85" y2="200.4" stroke="#000" stroke-width="3.0" />
<line x1="1009.27" y1="177.83" x2="1030.81" y2="77.35" stroke="#000" stroke-width="3.0" />
<line x1="1035.36" y1="77.41" x2="1083.8" y2="333.17" stroke="#000" stroke-width="3.0" />
<line x1="1097.3" y1="346.27" x2="1232.74" y2="367.74" stroke="#000" stroke-width="3.0" />
<line x1="1255.41" y1="371.64" x2="1496.39" y2="416.47" stroke="#000" stroke-width="3.0" />
<line x1="980.5" y1="64.6" x2="980.5" y2="55.81" stroke="#606060" stroke-width="1.2" />
<line x1="975.5" y1="55.81" x2="985.5" y2="55.81" stroke="#606060" stroke-width="1.2" />
<line x1="980.5" y1="76.6" x2="980.5" y2="85.39" stroke="#606060" stroke-width="1.2" />
<line x1="975.5" y1="85.39" x2="985.5" y2="85.39" stroke="#606060" stroke-width="1.2" />
<line x1="1006.86" y1="89.45" x2="1006.86" y2="73.18" stroke="#606060" stroke-width="1.2" />
<line x1="1001.86" y1="73.18" x2="1011.86" y2="73.18" stroke="#606060" stroke-width="1.2" />
<line x1="1006.86" y1="101.45" x2="1006.86" y2="117.73" stroke="#606060" stroke-width="1.2" />
<line x1="1001.86" y1="117.73" x2="1011.86" y2="117.73" stroke="#606060" stroke-width="1.2" />
<line x1="1033.22" y1="135.57" x2="1033.22" y2="115.76" stroke="#606060" stroke-width="1.2" />
<line x1="1028.22" y1="115.76" x2="1038.22" y2="115.76" stroke="#606060" stroke-width="1.2" />
<line x1="1033.22" y1="147.57" x2="1033.22" y2="167.38" stroke="#606060" stroke-width="1.2" />
<line x1="1028.22" y1="167.38" x2="1038.22" y2="167.38" stroke="#606060" stroke-width="1.2" />
<line x1="1085.94" y1="168.51" x2="1085.94" y2="142.53" stroke="#606060" stroke-width="1.2" />
<line x1="1080.94" y1="142.53" x2="1090.94" y2="142.53" stroke="#606060" stroke-width="1.2" />
<line x1="1085.94" y1="180.51" x2="1085.94" y2="206.49" stroke="#606060" stroke-width="1.2" />
<line x1="1080.94" y1="206.49" x2="1090.94" y2="206.49" stroke="#606060" stroke-width="1.2" />
<line x1="1244.1" y1="286.48" x2="1244.1" y2="255.11" stroke="#606060" stroke-width="1.2" />
<line x1="1239.1" y1="255.11" x2="1249.1" y2="255.11" stroke="#606060" stroke-width="1.2" />
<line x1="1244.1" y1="298.48" x2="1244.1" y2="329.85" stroke="#606060" stroke-width="1.2" />
<line x1="1239.1" y1="329.85" x2="1249.1" y2="329.85" stroke="#606060" stroke-width="1.2" />
<line x1="1507.7" y1="376.91" x2="1507.7" y2="363.93" stroke="#606060" stroke-width="1.2" />
<line x1="1502.7" y1="363.93" x2="1512.7" y2="363.93" stroke="#606060" stroke-width="1.2" />
<line x1="1507.7" y1="388.91" x2="1507.7" y2="401.9" stroke="#606060" stroke-width="1.2" />
<line x1="1502.7" y1="401.9" x2="1512.7" y2="401.9" stroke="#606060" stroke-width="1.2" />
<line x1="1006.86" y1="182.08" x2="1006.86" y2="173.11" stroke="#606060" stroke-width="1.2" />
<line x1="1001.86" y1="173.11" x2="1011.86" y2="173.11" stroke="#606060" stroke-width="1.2" />
<line x1="1006.86" y1="196.08" x2="1006.86" y2="205.05" stroke="#606060" stroke-width="1.2" />
<line x1="1001.86" y1="205.05" x2="1011.86" y2="205.05" stroke="#606060" stroke-width="1.2" />
<line x1="1085.94" y1="337.47" x2="1085.94" y2="320.51" stroke="#606060" stroke-width="1.2" />
<line x1="1080.94" y1="320.51" x2="1090.94" y2="320.51" stroke="#606060" stroke-width="1.2" />
<line x1="1085.94" y1="351.47" x2="1085.94" y2="368.42" stroke="#606060" stroke-width="1.2" />
<line x1="1080.94" y1="368.42" x2="1090.94" y2="368.42" stroke="#606060" stroke-width="1.2" />
<line x1="1244.1" y1="362.54" x2="1244.1" y2="358.52" stroke="#606060" stroke-width="1.2" />
<line x1="1239.1" y1="358.52" x2="1249.1" y2="358.52" stroke="#606060" stroke-width="1.2" />
<line x1="1244.1" y1="376.54" x2="1244.1" y2="380.56" stroke="#606060" stroke-width="1.2" />
<line x1="1239.1" y1="380.56" x2="1249.1" y2="380.56" stroke="#606060" stroke-width="1.2" />
<line x1="1507.7" y1="411.57" x2="1507.7" y2="408.99" stroke="#606060" stroke-width="1.2" />
<line x1="1502.7" y1="408.99" x2="1512.7" y2="408.99" stroke="#606060" stroke-width="1.2" />
<line x1="1507.7" y1="425.57" x2="1507.7" y2="428.15" stroke="#606060" stroke-width="1.2" />
<line x1="1502.7" y1="428.15" x2="1512.7" y2="428.15" stroke="#606060" stroke-width="1.2" />
<rect x="974" y="64.1" width="13" height="13" fill="#000" stroke="#000" stroke-width="1.6"/>
<rect x="1000.36" y="88.95" width="13" height="13" fill="#000" stroke="#000" stroke-width="1.6"/>
<rect x="1026.72" y="135.07" width="13" height="13" fill="#000" stroke="#000" stroke-width="1.6"/>
<rect x="1079.44" y="168.01" width="13" height="13" fill="#000" stroke="#000" stroke-width="1.6"/>
<rect x="1237.6" y="285.98" width="13" height="13" fill="#000" stroke="#000" stroke-width="1.6"/>
<rect x="1501.2" y="376.41" width="13" height="13" fill="#000" stroke="#000" stroke-width="1.6"/>
<circle cx="980.5" cy="337.6" r="7.5" fill="#fff" stroke="#000" stroke-width="1.6"/>
<circle cx="1006.86" cy="189.08" r="7.5" fill="#fff" stroke="#000" stroke-width="1.6"/>
<circle cx="1033.22" cy="66.11" r="7.5" fill="#fff" stroke="#000" stroke-width="1.6"/>
<circle cx="1085.94" cy="344.47" r="7.5" fill="#fff" stroke="#000" stroke-width="1.6"/>
<circle cx="1244.1" cy="369.54" r="7.5" fill="#fff" stroke="#000" stroke-width="1.6"/>
<circle cx="1507.7" cy="418.57" r="7.5" fill="#fff" stroke="#000" stroke-width="1.6"/>
<rect x="1245.8" y="39.4" width="267.2" height="73.8" fill="#fff" stroke="#333" stroke-width="1.2"/>
<line x1="1262.8" y1="64.3" x2="1315.7" y2="64.3" stroke="#000" stroke-width="3.0" />
<rect x="1282.8" y="57.8" width="13" height="13" fill="#000" stroke="#000" stroke-width="1.6"/>
<line x1="1262.8" y1="98.9" x2="1315.7" y2="98.9" stroke="#000" stroke-width="3.0" />
<circle cx="1289.3" cy="98.9" r="7.5" fill="#fff" stroke="#000" stroke-width="1.6"/>
<text x="1321.8" y="72.8" font-size="26.2" text-anchor="start" font-weight="bold" font-family="'Liberation Sans', Arial, sans-serif" >Viable bacteria</text>
<text x="1322.3" y="106.8" font-size="26.5" text-anchor="start" font-weight="bold" font-family="'Liberation Sans', Arial, sans-serif" >Yield of ACT</text>
<rect x="509.9" y="637.6" width="642.4" height="473.2" fill="none" stroke="#000" stroke-width="3.5" stroke-linejoin="round"/>
<line x1="638.38" y1="1110.8" x2="638.38" y2="1099.8" stroke="#000" stroke-width="3.2" />
<line x1="766.86" y1="1110.8" x2="766.86" y2="1099.8" stroke="#000" stroke-width="3.2" />
<line x1="895.34" y1="1110.8" x2="895.34" y2="1099.8" stroke="#000" stroke-width="3.2" />
<line x1="1023.82" y1="1110.8" x2="1023.82" y2="1099.8" stroke="#000" stroke-width="3.2" />
<text x="509.9" y="1142" font-size="25" text-anchor="middle" font-weight="bold" font-family="'Liberation Sans', Arial, sans-serif" >30</text>
<text x="638.38" y="1142" font-size="25" text-anchor="middle" font-weight="bold" font-family="'Liberation Sans', Arial, sans-serif" >60</text>
<text x="766.86" y="1142" font-size="25" text-anchor="middle" font-weight="bold" font-family="'Liberation Sans', Arial, sans-serif" >90</text>
<text x="895.34" y="1142" font-size="25" text-anchor="middle" font-weight="bold" font-family="'Liberation Sans', Arial, sans-serif" >120</text>
<text x="1023.82" y="1142" font-size="25" text-anchor="middle" font-weight="bold" font-family="'Liberation Sans', Arial, sans-serif" >150</text>
<text x="1152.3" y="1142" font-size="25" text-anchor="middle" font-weight="bold" font-family="'Liberation Sans', Arial, sans-serif" >180</text>
<line x1="574.14" y1="1110.8" x2="574.14" y2="1104.3" stroke="#000" stroke-width="3.2" />
<line x1="702.62" y1="1110.8" x2="702.62" y2="1104.3" stroke="#000" stroke-width="3.2" />
<line x1="831.1" y1="1110.8" x2="831.1" y2="1104.3" stroke="#000" stroke-width="3.2" />
<line x1="959.58" y1="1110.8" x2="959.58" y2="1104.3" stroke="#000" stroke-width="3.2" />
<line x1="1088.06" y1="1110.8" x2="1088.06" y2="1104.3" stroke="#000" stroke-width="3.2" />
<line x1="509.9" y1="1069.05" x2="520.9" y2="1069.05" stroke="#000" stroke-width="3.2" />
<text x="499" y="1076.05" font-size="25" text-anchor="end" font-weight="bold" font-family="'Liberation Sans', Arial, sans-serif" >0.0</text>
<line x1="509.9" y1="999.46" x2="520.9" y2="999.46" stroke="#000" stroke-width="3.2" />
<text x="499" y="1006.46" font-size="25" text-anchor="end" font-weight="bold" font-family="'Liberation Sans', Arial, sans-serif" >0.5</text>
<line x1="509.9" y1="929.87" x2="520.9" y2="929.87" stroke="#000" stroke-width="3.2" />
<text x="499" y="936.87" font-size="25" text-anchor="end" font-weight="bold" font-family="'Liberation Sans', Arial, sans-serif" >1.0</text>
<line x1="509.9" y1="860.28" x2="520.9" y2="860.28" stroke="#000" stroke-width="3.2" />
<text x="499" y="867.28" font-size="25" text-anchor="end" font-weight="bold" font-family="'Liberation Sans', Arial, sans-serif" >1.5</text>
<line x1="509.9" y1="790.69" x2="520.9" y2="790.69" stroke="#000" stroke-width="3.2" />
<text x="499" y="797.69" font-size="25" text-anchor="end" font-weight="bold" font-family="'Liberation Sans', Arial, sans-serif" >2.0</text>
<line x1="509.9" y1="721.11" x2="520.9" y2="721.11" stroke="#000" stroke-width="3.2" />
<text x="499" y="728.11" font-size="25" text-anchor="end" font-weight="bold" font-family="'Liberation Sans', Arial, sans-serif" >2.5</text>
<line x1="509.9" y1="651.52" x2="520.9" y2="651.52" stroke="#000" stroke-width="3.2" />
<text x="499" y="658.52" font-size="25" text-anchor="end" font-weight="bold" font-family="'Liberation Sans', Arial, sans-serif" >3.0</text>
<line x1="509.9" y1="1103.84" x2="516.4" y2="1103.84" stroke="#000" stroke-width="3.2" />
<line x1="509.9" y1="1034.25" x2="516.4" y2="1034.25" stroke="#000" stroke-width="3.2" />
<line x1="509.9" y1="964.66" x2="516.4" y2="964.66" stroke="#000" stroke-width="3.2" />
<line x1="509.9" y1="895.08" x2="516.4" y2="895.08" stroke="#000" stroke-width="3.2" />
<line x1="509.9" y1="825.49" x2="516.4" y2="825.49" stroke="#000" stroke-width="3.2" />
<line x1="509.9" y1="755.9" x2="516.4" y2="755.9" stroke="#000" stroke-width="3.2" />
<line x1="509.9" y1="686.31" x2="516.4" y2="686.31" stroke="#000" stroke-width="3.2" />
<text x="788.4" y="1186.6" font-size="22.5" text-anchor="start" font-weight="bold" font-family="'Liberation Sans', Arial, sans-serif" >Time (h)</text>
<text transform="translate(449.3,1064.5) rotate(-90)" font-size="25.5" font-weight="bold" font-family="'Liberation Sans', Arial, sans-serif">Concentration of ACT (mg/L)</text>
<text x="1107.8" y="681.2" font-size="51" font-family="'Liberation Sans', Arial, sans-serif">c</text>
<polyline points="586.99,1069.05 689.77,1052.35 792.56,1027.02 895.34,946.57 998.12,885.06 1100.91,885.06" fill="none" stroke="#000" stroke-width="3.0" stroke-linejoin="round"/>
<polyline points="586.99,1069.05 689.77,1035.51 792.56,948.24 895.34,826.18 998.12,695.36 1100.91,703.71" fill="none" stroke="#000" stroke-width="3.0" stroke-linejoin="round"/>
<polyline points="586.99,1069.05 689.77,1036.76 792.56,961.6 895.34,840.66 998.12,726.39 1100.91,729.32" fill="none" stroke="#000" stroke-width="3.0" stroke-linejoin="round"/>
<polyline points="586.99,1069.05 689.77,1038.15 792.56,954.92 895.34,849.84 998.12,740.31 1100.91,738.09" fill="none" stroke="#000" stroke-width="3.0" stroke-linejoin="round"/>
<polyline points="586.99,1069.05 689.77,1053.32 792.56,1018.67 895.34,942.67 998.12,875.87 1100.91,877.68" fill="none" stroke="#000" stroke-width="3.0" stroke-linejoin="round"/>
<line x1="895.34" y1="940.57" x2="895.34" y2="937.11" stroke="#606060" stroke-width="1.2" />
<line x1="890.34" y1="937.11" x2="900.34" y2="937.11" stroke="#606060" stroke-width="1.2" />
<line x1="895.34" y1="952.57" x2="895.34" y2="956.04" stroke="#606060" stroke-width="1.2" />
<line x1="890.34" y1="956.04" x2="900.34" y2="956.04" stroke="#606060" stroke-width="1.2" />
<line x1="998.12" y1="879.06" x2="998.12" y2="872.11" stroke="#606060" stroke-width="1.2" />
<line x1="993.12" y1="872.11" x2="1003.12" y2="872.11" stroke="#606060" stroke-width="1.2" />
<line x1="998.12" y1="891.06" x2="998.12" y2="898" stroke="#606060" stroke-width="1.2" />
<line x1="993.12" y1="898" x2="1003.12" y2="898" stroke="#606060" stroke-width="1.2" />
<line x1="1100.91" y1="879.06" x2="1100.91" y2="874.62" stroke="#606060" stroke-width="1.2" />
<line x1="1095.91" y1="874.62" x2="1105.91" y2="874.62" stroke="#606060" stroke-width="1.2" />
<line x1="1100.91" y1="891.06" x2="1100.91" y2="895.49" stroke="#606060" stroke-width="1.2" />
<line x1="1095.91" y1="895.49" x2="1105.91" y2="895.49" stroke="#606060" stroke-width="1.2" />
<line x1="684.77" y1="1032.72" x2="694.77" y2="1032.72" stroke="#606060" stroke-width="1.2" />
<line x1="684.77" y1="1038.29" x2="694.77" y2="1038.29" stroke="#606060" stroke-width="1.2" />
<line x1="792.56" y1="941.24" x2="792.56" y2="935.3" stroke="#606060" stroke-width="1.2" />
<line x1="787.56" y1="935.3" x2="797.56" y2="935.3" stroke="#606060" stroke-width="1.2" />
<line x1="792.56" y1="955.24" x2="792.56" y2="961.19" stroke="#606060" stroke-width="1.2" />
<line x1="787.56" y1="961.19" x2="797.56" y2="961.19" stroke="#606060" stroke-width="1.2" />
<line x1="895.34" y1="819.18" x2="895.34" y2="816.02" stroke="#606060" stroke-width="1.2" />
<line x1="890.34" y1="816.02" x2="900.34" y2="816.02" stroke="#606060" stroke-width="1.2" />
<line x1="895.34" y1="833.18" x2="895.34" y2="836.34" stroke="#606060" stroke-width="1.2" />
<line x1="890.34" y1="836.34" x2="900.34" y2="836.34" stroke="#606060" stroke-width="1.2" />
<line x1="998.12" y1="688.36" x2="998.12" y2="681.44" stroke="#606060" stroke-width="1.2" />
<line x1="993.12" y1="681.44" x2="1003.12" y2="681.44" stroke="#606060" stroke-width="1.2" />
<line x1="998.12" y1="702.36" x2="998.12" y2="709.28" stroke="#606060" stroke-width="1.2" />
<line x1="993.12" y1="709.28" x2="1003.12" y2="709.28" stroke="#606060" stroke-width="1.2" />
<line x1="1100.91" y1="696.71" x2="1100.91" y2="689.79" stroke="#606060" stroke-width="1.2" />
<line x1="1095.91" y1="689.79" x2="1105.91" y2="689.79" stroke="#606060" stroke-width="1.2" />
<line x1="1100.91" y1="710.71" x2="1100.91" y2="717.63" stroke="#606060" stroke-width="1.2" />
<line x1="1095.91" y1="717.63" x2="1105.91" y2="717.63" stroke="#606060" stroke-width="1.2" />
<line x1="684.77" y1="1033.97" x2="694.77" y2="1033.97" stroke="#606060" stroke-width="1.2" />
<line x1="684.77" y1="1039.54" x2="694.77" y2="1039.54" stroke="#606060" stroke-width="1.2" />
<line x1="787.56" y1="957.43" x2="797.56" y2="957.43" stroke="#606060" stroke-width="1.2" />
<line x1="787.56" y1="965.78" x2="797.56" y2="965.78" stroke="#606060" stroke-width="1.2" />
<line x1="890.34" y1="836.48" x2="900.34" y2="836.48" stroke="#606060" stroke-width="1.2" />
<line x1="890.34" y1="844.83" x2="900.34" y2="844.83" stroke="#606060" stroke-width="1.2" />
<line x1="998.12" y1="719.39" x2="998.12" y2="718.74" stroke="#606060" stroke-width="1.2" />
<line x1="993.12" y1="718.74" x2="1003.12" y2="718.74" stroke="#606060" stroke-width="1.2" />
<line x1="998.12" y1="733.39" x2="998.12" y2="734.05" stroke="#606060" stroke-width="1.2" />
<line x1="993.12" y1="734.05" x2="1003.12" y2="734.05" stroke="#606060" stroke-width="1.2" />
<line x1="1095.91" y1="723.75" x2="1105.91" y2="723.75" stroke="#606060" stroke-width="1.2" />
<line x1="1095.91" y1="734.88" x2="1105.91" y2="734.88" stroke="#606060" stroke-width="1.2" />
<line x1="684.77" y1="1035.37" x2="694.77" y2="1035.37" stroke="#606060" stroke-width="1.2" />
<line x1="684.77" y1="1040.93" x2="694.77" y2="1040.93" stroke="#606060" stroke-width="1.2" />
<line x1="787.56" y1="950.75" x2="797.56" y2="950.75" stroke="#606060" stroke-width="1.2" />
<line x1="787.56" y1="959.1" x2="797.56" y2="959.1" stroke="#606060" stroke-width="1.2" />
<line x1="890.34" y1="845.67" x2="900.34" y2="845.67" stroke="#606060" stroke-width="1.2" />
<line x1="890.34" y1="854.02" x2="900.34" y2="854.02" stroke="#606060" stroke-width="1.2" />
<line x1="993.12" y1="736.14" x2="1003.12" y2="736.14" stroke="#606060" stroke-width="1.2" />
<line x1="993.12" y1="744.49" x2="1003.12" y2="744.49" stroke="#606060" stroke-width="1.2" />
<line x1="1095.91" y1="733.91" x2="1105.91" y2="733.91" stroke="#606060" stroke-width="1.2" />
<line x1="1095.91" y1="742.26" x2="1105.91" y2="742.26" stroke="#606060" stroke-width="1.2" />
<line x1="684.77" y1="1050.54" x2="694.77" y2="1050.54" stroke="#606060" stroke-width="1.2" />
<line x1="684.77" y1="1056.1" x2="694.77" y2="1056.1" stroke="#606060" stroke-width="1.2" />
<line x1="787.56" y1="1014.49" x2="797.56" y2="1014.49" stroke="#606060" stroke-width="1.2" />
<line x1="787.56" y1="1022.84" x2="797.56" y2="1022.84" stroke="#606060" stroke-width="1.2" />
<line x1="890.34" y1="937.11" x2="900.34" y2="937.11" stroke="#606060" stroke-width="1.2" />
<line x1="890.34" y1="948.24" x2="900.34" y2="948.24" stroke="#606060" stroke-width="1.2" />
<line x1="998.12" y1="868.87" x2="998.12" y2="865.01" stroke="#606060" stroke-width="1.2" />
<line x1="993.12" y1="865.01" x2="1003.12" y2="865.01" stroke="#606060" stroke-width="1.2" />
<line x1="998.12" y1="882.87" x2="998.12" y2="886.73" stroke="#606060" stroke-width="1.2" />
<line x1="993.12" y1="886.73" x2="1003.12" y2="886.73" stroke="#606060" stroke-width="1.2" />
<line x1="1095.91" y1="870.72" x2="1105.91" y2="870.72" stroke="#606060" stroke-width="1.2" />
<line x1="1095.91" y1="884.64" x2="1105.91" y2="884.64" stroke="#606060" stroke-width="1.2" />
<rect x="580.74" y="1062.8" width="12.5" height="12.5" fill="#000" stroke="#000" stroke-width="1.6"/>
<rect x="683.52" y="1046.1" width="12.5" height="12.5" fill="#000" stroke="#000" stroke-width="1.6"/>
<rect x="786.31" y="1020.77" width="12.5" height="12.5" fill="#000" stroke="#000" stroke-width="1.6"/>
<rect x="889.09" y="940.32" width="12.5" height="12.5" fill="#000" stroke="#000" stroke-width="1.6"/>
<rect x="991.87" y="878.81" width="12.5" height="12.5" fill="#000" stroke="#000" stroke-width="1.6"/>
<rect x="1094.66" y="878.81" width="12.5" height="12.5" fill="#000" stroke="#000" stroke-width="1.6"/>
<circle cx="586.99" cy="1069.05" r="7.5" fill="#fff" stroke="#000" stroke-width="1.6"/>
<circle cx="689.77" cy="1036.76" r="7.5" fill="#fff" stroke="#000" stroke-width="1.6"/>
<circle cx="792.56" cy="961.6" r="7.5" fill="#fff" stroke="#000" stroke-width="1.6"/>
<circle cx="895.34" cy="840.66" r="7.5" fill="#fff" stroke="#000" stroke-width="1.6"/>
<circle cx="998.12" cy="726.39" r="7.5" fill="#fff" stroke="#000" stroke-width="1.6"/>
<circle cx="1100.91" cy="729.32" r="7.5" fill="#fff" stroke="#000" stroke-width="1.6"/>
<polygon points="586.99,1078.86 578.49,1064.14 595.49,1064.14" fill="#000" stroke="#000" stroke-width="1.6" stroke-linejoin="miter"/>
<polygon points="689.77,1047.96 681.27,1033.24 698.27,1033.24" fill="#000" stroke="#000" stroke-width="1.6" stroke-linejoin="miter"/>
<polygon points="792.56,964.74 784.06,950.02 801.06,950.02" fill="#000" stroke="#000" stroke-width="1.6" stroke-linejoin="miter"/>
<polygon points="895.34,859.66 886.84,844.94 903.84,844.94" fill="#000" stroke="#000" stroke-width="1.6" stroke-linejoin="miter"/>
<polygon points="998.12,750.13 989.62,735.4 1006.62,735.4" fill="#000" stroke="#000" stroke-width="1.6" stroke-linejoin="miter"/>
<polygon points="1100.91,747.9 1092.41,733.18 1109.41,733.18" fill="#000" stroke="#000" stroke-width="1.6" stroke-linejoin="miter"/>
<circle cx="586.99" cy="1069.05" r="7.5" fill="#000" stroke="#000" stroke-width="1.6"/>
<circle cx="689.77" cy="1035.51" r="7.5" fill="#000" stroke="#000" stroke-width="1.6"/>
<circle cx="792.56" cy="948.24" r="7.5" fill="#000" stroke="#000" stroke-width="1.6"/>
<circle cx="895.34" cy="826.18" r="7.5" fill="#000" stroke="#000" stroke-width="1.6"/>
<circle cx="998.12" cy="695.36" r="7.5" fill="#000" stroke="#000" stroke-width="1.6"/>
<circle cx="1100.91" cy="703.71" r="7.5" fill="#000" stroke="#000" stroke-width="1.6"/>
<polygon points="586.99,1059.23 578.49,1073.95 595.49,1073.95" fill="#fff" stroke="#000" stroke-width="1.6" stroke-linejoin="miter"/>
<polygon points="689.77,1043.51 681.27,1058.23 698.27,1058.23" fill="#fff" stroke="#000" stroke-width="1.6" stroke-linejoin="miter"/>
<polygon points="792.56,1008.85 784.06,1023.57 801.06,1023.57" fill="#fff" stroke="#000" stroke-width="1.6" stroke-linejoin="miter"/>
<polygon points="895.34,932.86 886.84,947.58 903.84,947.58" fill="#fff" stroke="#000" stroke-width="1.6" stroke-linejoin="miter"/>
<polygon points="998.12,866.06 989.62,880.78 1006.62,880.78" fill="#fff" stroke="#000" stroke-width="1.6" stroke-linejoin="miter"/>
<polygon points="1100.91,867.86 1092.41,882.59 1109.41,882.59" fill="#fff" stroke="#000" stroke-width="1.6" stroke-linejoin="miter"/>
<rect x="540.9" y="649.5" width="249.9" height="148.2" fill="#fff" stroke="#333" stroke-width="1.2"/>
<line x1="544.2" y1="667.1" x2="597.5" y2="667.1" stroke="#000" stroke-width="3.0" />
<rect x="564.95" y="660.85" width="12.5" height="12.5" fill="#000" stroke="#000" stroke-width="1.6"/>
<text x="604" y="675.2" font-size="22.8" text-anchor="start" font-weight="bold" font-family="'Liberation Sans', Arial, sans-serif" >Control</text>
<line x1="544.2" y1="696.3" x2="597.5" y2="696.3" stroke="#000" stroke-width="3.0" />
<circle cx="571.2" cy="696.3" r="7.5" fill="#000" stroke="#000" stroke-width="1.6"/>
<text x="604" y="704.4" font-size="22.8" text-anchor="start" font-weight="bold" font-family="'Liberation Sans', Arial, sans-serif" >40 nm CuO NPs</text>
<line x1="544.2" y1="725.5" x2="597.5" y2="725.5" stroke="#000" stroke-width="3.0" />
<circle cx="571.2" cy="725.5" r="7.5" fill="#fff" stroke="#000" stroke-width="1.6"/>
<text x="604" y="733.6" font-size="22.8" text-anchor="start" font-weight="bold" font-family="'Liberation Sans', Arial, sans-serif" >80 nm CuO NPs</text>
<line x1="544.2" y1="754.7" x2="597.5" y2="754.7" stroke="#000" stroke-width="3.0" />
<polygon points="571.2,764.51 562.7,749.79 579.7,749.79" fill="#000" stroke="#000" stroke-width="1.6" stroke-linejoin="miter"/>
<text x="604" y="762.8" font-size="22.8" text-anchor="start" font-weight="bold" font-family="'Liberation Sans', Arial, sans-serif" >100 nm CuO NPs</text>
<line x1="544.2" y1="783.9" x2="597.5" y2="783.9" stroke="#000" stroke-width="3.0" />
<polygon points="571.2,774.09 562.7,788.81 579.7,788.81" fill="#fff" stroke="#000" stroke-width="1.6" stroke-linejoin="miter"/>
<text x="604" y="792" font-size="22.8" text-anchor="start" font-weight="bold" font-family="'Liberation Sans', Arial, sans-serif" >Bulk particles</text>
</g></svg></body></html>
